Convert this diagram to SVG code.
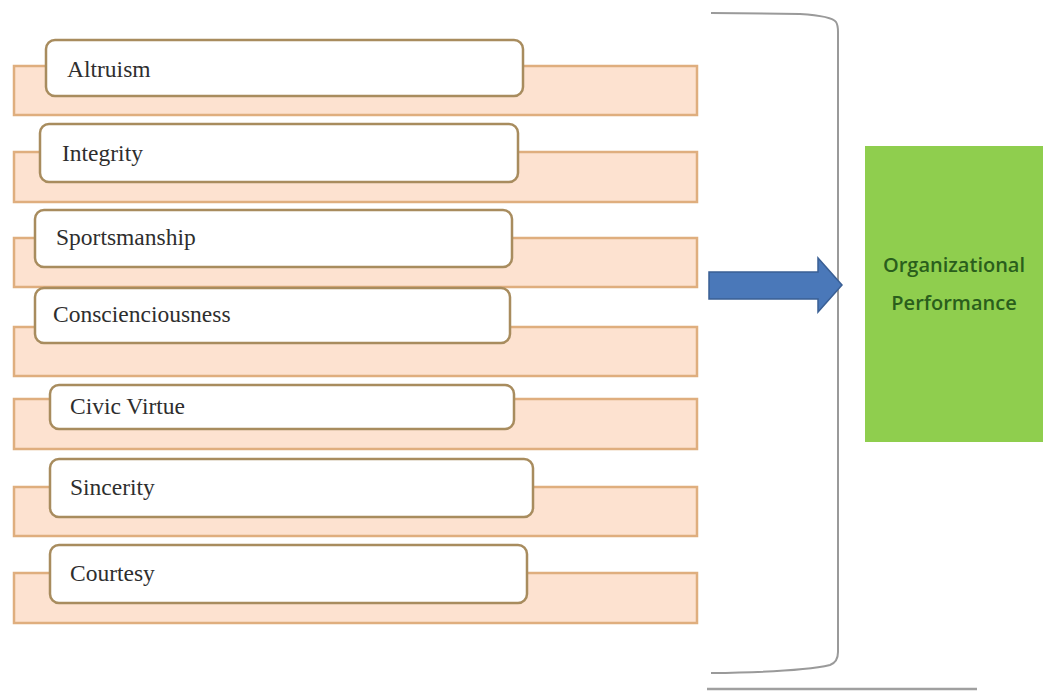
<svg xmlns="http://www.w3.org/2000/svg" width="1043" height="694" viewBox="0 0 1043 694">
<style>
.bar{fill:#fde2d0;stroke:#dfae7e;stroke-width:2.5}
.box{fill:#ffffff;stroke:#a88c5e;stroke-width:2.5}
.lbl{font-family:"Liberation Serif",serif;font-size:23.5px;fill:#2e2e2e}
.out{font-family:"Open Sans","Liberation Sans",sans-serif;font-size:20px;font-weight:600;fill:#2a5e1c}
.br{fill:none;stroke:#9a9a9a;stroke-width:2}
</style>
<rect width="1043" height="694" fill="#ffffff"/>
<g id="altruism">
<rect class="bar" x="14" y="66" width="683" height="49"/>
<rect class="box" x="46" y="40" width="477" height="56" rx="9"/>
<text class="lbl" x="67" y="77">Altruism</text>
</g>
<g id="integrity">
<rect class="bar" x="14" y="152" width="683" height="50"/>
<rect class="box" x="40" y="124" width="478" height="58" rx="9"/>
<text class="lbl" x="62" y="161">Integrity</text>
</g>
<g id="sportsmanship">
<rect class="bar" x="14" y="238" width="683" height="49"/>
<rect class="box" x="35" y="210" width="477" height="57" rx="9"/>
<text class="lbl" x="56" y="245">Sportsmanship</text>
</g>
<g id="conscienciousness">
<rect class="bar" x="14" y="327" width="683" height="49"/>
<rect class="box" x="35" y="288" width="475" height="55" rx="9"/>
<text class="lbl" x="53" y="322">Conscienciousness</text>
</g>
<g id="civic-virtue">
<rect class="bar" x="14" y="399" width="683" height="50"/>
<rect class="box" x="50" y="385" width="464" height="44" rx="9"/>
<text class="lbl" x="70" y="414">Civic Virtue</text>
</g>
<g id="sincerity">
<rect class="bar" x="14" y="487" width="683" height="49"/>
<rect class="box" x="50" y="459" width="483" height="58" rx="9"/>
<text class="lbl" x="70" y="495">Sincerity</text>
</g>
<g id="courtesy">
<rect class="bar" x="14" y="573" width="683" height="50"/>
<rect class="box" x="50" y="545" width="477" height="58" rx="9"/>
<text class="lbl" x="70" y="581">Courtesy</text>
</g>
<g id="connectors">
<path class="br" d="M711 13 L800 14 Q832 16 836 22 Q838 25 838 32 L838 652 Q838 662 830 665 Q800 672 711 673"/>
<line x1="707" y1="689" x2="977" y2="689" stroke="#a0a0a0" stroke-width="2.5"/>
<path d="M709 272 L818 272 L818 258 L842 285 L818 312 L818 299 L709 299 Z" fill="#4a78b9" stroke="#3a5f94" stroke-width="1.5"/>
</g>
<g id="organizational-performance">
<rect x="865" y="146" width="178" height="296" fill="#8fce4e"/>
<text class="out" x="954" y="272" text-anchor="middle">Organizational</text>
<text class="out" x="954" y="310" text-anchor="middle">Performance</text>
</g>
</svg>
